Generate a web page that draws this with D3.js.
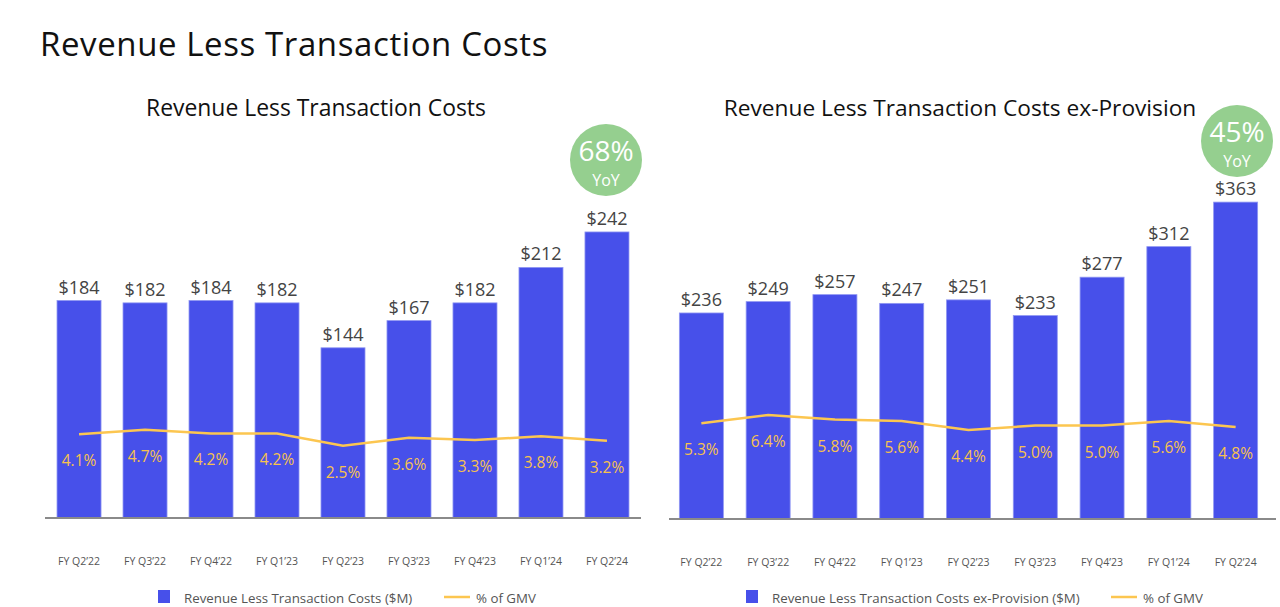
<!DOCTYPE html>
<html><head><meta charset="utf-8">
<script src="https://cdn.jsdelivr.net/npm/d3@7"></script>
<style>
html,body{margin:0;padding:0;background:#fff;}
svg{display:block;font-family:"Open Sans","Noto Sans",sans-serif;}
</style></head>
<body><svg id="c" width="1280" height="607"></svg>
<script>
const categories = ["FY Q2’22","FY Q3’22","FY Q4’22","FY Q1’23","FY Q2’23","FY Q3’23","FY Q4’23","FY Q1’24","FY Q2’24"];
const leftValues = [184,182,184,182,144,167,182,212,242];
const leftPct = [4.1,4.7,4.2,4.2,2.5,3.6,3.3,3.8,3.2];
const rightValues = [236,249,257,247,251,233,277,312,363];
const rightPct = [5.3,6.4,5.8,5.6,4.4,5.0,5.0,5.6,4.8];
const mainTitle = "Revenue Less Transaction Costs";
const leftTitle = "Revenue Less Transaction Costs";
const rightTitle = "Revenue Less Transaction Costs ex-Provision";
const leftLegend = ["Revenue Less Transaction Costs ($M)","% of GMV"];
const rightLegend = ["Revenue Less Transaction Costs ex-Provision ($M)","% of GMV"];
const leftBadge = ["68%","YoY"];
const rightBadge = ["45%","YoY"];

const BAR = "#4750ea", LINE = "#fcc650", LBL = "#f7c24e", TXT = "#444", GREEN = "#95cf8f";
const svg = d3.select("#c");

svg.append("text").attr("x",40).attr("y",56).attr("font-size",33).attr("letter-spacing",0.6).attr("fill","#111")
  .text(mainTitle);

function panel(cfg){
  const g = svg.append("g");
  const x = d3.scaleBand().domain(categories).range(cfg.xr).paddingInner(cfg.pi).paddingOuter(cfg.po);
  const y = d3.scaleLinear().domain([0,cfg.ymax]).range([cfg.base, cfg.ytop]);
  const y2 = d3.scaleLinear().domain([0,10]).range(cfg.y2r);

  g.append("text").attr("x",cfg.titleX).attr("y",116).attr("text-anchor","middle")
    .attr("font-size",cfg.titleSize).attr("fill","#111").text(cfg.title);

  g.selectAll("rect.bar").data(cfg.values).join("rect").attr("class","bar")
    .attr("x",(d,i)=>x(categories[i])).attr("width",x.bandwidth())
    .attr("y",d=>y(d)).attr("height",d=>y(0)-y(d)).attr("fill",BAR)
    .attr("stroke","#9097f2").attr("stroke-width",0.8);

  g.selectAll("text.val").data(cfg.values).join("text").attr("class","val")
    .attr("x",(d,i)=>x(categories[i])+x.bandwidth()/2).attr("y",d=>y(d)-7)
    .attr("text-anchor","middle").attr("font-size",18).attr("fill",TXT).text(d=>"$"+d);

  const ax = g.append("g").attr("transform",`translate(0,${cfg.base})`)
    .call(d3.axisBottom(x).tickSize(0).tickPadding(40));
  ax.select(".domain").attr("stroke","#8a8a8a").attr("stroke-width",2)
    .attr("d",`M${cfg.axr[0]},0H${cfg.axr[1]}`);
  ax.selectAll("text").attr("font-size",10.5).attr("fill","#555")
    .attr("font-family","'Open Sans',sans-serif");

  const line = d3.line().x((d,i)=>x(categories[i])+x.bandwidth()/2).y(d=>y2(d));
  g.append("path").datum(cfg.pct).attr("d",line).attr("fill","none")
    .attr("stroke",LINE).attr("stroke-width",2.5);

  g.selectAll("text.pct").data(cfg.pct).join("text").attr("class","pct")
    .attr("x",(d,i)=>x(categories[i])+x.bandwidth()/2).attr("y",d=>y2(d)+32)
    .attr("text-anchor","middle").attr("font-size",15.5).attr("fill",LBL).text(d=>d.toFixed(1)+"%");

  const bx = cfg.badge[0], by = cfg.badge[1];
  g.append("circle").attr("cx",bx).attr("cy",by).attr("r",36).attr("fill",GREEN);
  g.append("text").attr("x",bx).attr("y",by+1).attr("text-anchor","middle").attr("font-size",28)
    .attr("fill","#fff").text(cfg.badgeText[0]);
  g.append("text").attr("x",bx).attr("y",by+25.5).attr("text-anchor","middle").attr("font-size",16)
    .attr("fill","#fff").text(cfg.badgeText[1]);

  const L = cfg.legend;
  g.append("rect").attr("x",L.sq).attr("y",590).attr("width",12).attr("height",13).attr("fill",BAR);
  g.append("text").attr("x",L.sq+26).attr("y",603).attr("font-size",13.3).attr("fill","#555").text(cfg.legendText[0]);
  g.append("line").attr("x1",L.ln).attr("x2",L.ln+26).attr("y1",597).attr("y2",597)
    .attr("stroke",LINE).attr("stroke-width",2.5);
  g.append("text").attr("x",L.ln+32).attr("y",603).attr("font-size",13.3).attr("fill","#555").text(cfg.legendText[1]);
}

panel({xr:[46,640], pi:0.333, po:0.167, axr:[45,641], base:518, ymax:300, ytop:518-300*1.182, y2r:[464,464-72.7],
  values:leftValues, pct:leftPct, title:leftTitle, titleX:316, titleSize:22.9, badge:[606,160], badgeText:leftBadge,
  legend:{sq:158, ln:444}, legendText:leftLegend});
panel({xr:[668,1269], pi:0.341, po:0.17, axr:[669,1276], base:519, ymax:400, ytop:519-400*0.873, y2r:[463,388],
  values:rightValues, pct:rightPct, title:rightTitle, titleX:960, titleSize:22.7, badge:[1237,141], badgeText:rightBadge,
  legend:{sq:746, ln:1111}, legendText:rightLegend});
</script></body></html>
